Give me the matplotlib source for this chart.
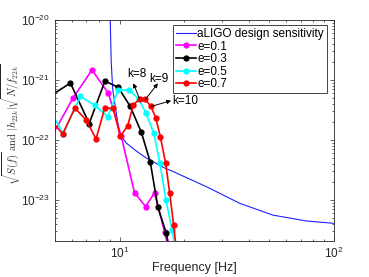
import numpy as np
import matplotlib
matplotlib.use("Agg")
import matplotlib.pyplot as plt

plt.rcParams['font.family'] = ['Liberation Sans', 'DejaVu Sans']

# ─── data ────────────────────────────────────────────────────────────────────

ligo_f = [8.95, 9.05, 9.15, 9.30, 10.0, 10.75, 11.97, 13.33, 16.23, 17.75,
          25.4, 36.4, 52.0, 74.6, 100.0]
ligo_h = [1e-18, 1e-20, 1.92e-21, 6.8e-22, 1.26e-22, 8.9e-23, 6.56e-23,
          5.0e-23, 3.42e-23, 2.99e-23, 1.67e-23, 8.8e-24, 5.6e-24,
          4.47e-24, 4.09e-24]

e01_f = [4.41, 6.05, 7.44, 8.88, 10.18, 11.75, 13.23, 14.57, 16.23, 17.88]
e01_h = [6.36e-23, 4.92e-22, 1.47e-21, 5.96e-22, 1.17e-22, 1.32e-23,
         7.8e-24, 1.32e-23, 2.93e-24, 6.8e-25]

e03_f = [4.50, 5.90, 7.22, 8.55, 9.86, 11.19, 12.63, 13.92, 15.10, 16.53, 18.07]
e03_h = [4.75e-22, 8.9e-22, 1.88e-22, 9.6e-22, 7.55e-22, 3.69e-22,
         1.36e-22, 4.25e-23, 7.55e-24, 2.79e-24, 5.6e-25]

e05_f = [4.56, 5.47, 6.57, 7.68, 8.82, 9.84, 11.07, 12.27, 13.30, 14.46,
         15.43, 16.46, 17.59, 18.66]
e05_h = [3.98e-22, 1.28e-22, 5.35e-22, 3.76e-22, 2.45e-22, 6.68e-22,
         6.89e-22, 4.82e-22, 2.79e-22, 1.29e-22, 4.09e-23, 1.0e-23,
         3.16e-24, 9.3e-25]

e07_f = [4.66, 5.43, 6.19, 6.99, 7.77, 8.53, 9.36, 10.08, 10.90, 11.60,
         12.40, 13.20, 14.01, 14.73, 15.50, 16.41, 17.13, 17.88, 18.66]
e07_h = [2.42e-22, 1.26e-22, 3.41e-22, 2.15e-22, 1.04e-22, 3.41e-22,
         3.35e-22, 1.15e-22, 1.71e-22, 3.83e-22, 4.82e-22, 4.73e-22,
         3.62e-22, 2.37e-22, 1.14e-22, 4.09e-23, 1.32e-23, 3.83e-24, 1.0e-24]

series = [("e=0.1", e01_f, e01_h, "#ff00ff"),
          ("e=0.3", e03_f, e03_h, "black"),
          ("e=0.5", e05_f, e05_h, "#00ffff"),
          ("e=0.7", e07_f, e07_h, "#ff0000")]

# k labels: (label, tail point on e=0.7 curve, arrow head, text position)
k_labels = [("k=8", (12.40, 4.82e-22), (11.6, 8.8e-22), (12.0, 1.24e-21)),
            ("k=9", (13.20, 4.73e-22), (15.1, 8.8e-22), (15.3, 1.04e-21)),
            ("k=10", (14.01, 3.62e-22), (17.4, 4.52e-22), (17.6, 4.55e-22))]

# ─── figure ──────────────────────────────────────────────────────────────────

fig = plt.figure(figsize=(3.69, 2.77), dpi=100)
ax = fig.add_axes([0.149, 0.131, 0.756, 0.797])

ax.plot(ligo_f, ligo_h, color="#2020ff", linewidth=0.8,
        label="aLIGO design sensitivity")
for name, f, h, c in series:
    ax.plot(f, h, color=c, linewidth=1.2, marker="o", markersize=3.6,
            markeredgewidth=0.9, label=name)

for txt, tail, head, pos in k_labels:
    ax.annotate("", xy=head, xytext=tail,
                arrowprops=dict(arrowstyle="-|>", color="black", lw=0.7,
                                mutation_scale=6, shrinkA=0, shrinkB=0))
    ha = "left" if txt == "k=10" else "center"
    ax.text(pos[0], pos[1], txt, fontsize=8.5, ha=ha, va="center")

ax.set_xscale("log")
ax.set_yscale("log")
ax.set_xlim(5, 100)
ax.set_ylim(2.1e-24, 1e-20)

ax.set_xlabel("Frequency [Hz]", fontsize=9, color="#262626", labelpad=1)
yl = ax.set_ylabel(r"$\sqrt{S(f)}\ \mathrm{and}\ |h_{22k}|\sqrt{N/f_{22k}}$",
                   fontsize=7.5, color="#262626")
yl.set_math_fontfamily("cm")
ax.yaxis.set_label_coords(-0.115, 0.53)

ax.tick_params(which="both", direction="in", top=True, right=True,
               colors="#262626", labelsize=8.5, width=0.5)
ax.tick_params(which="major", length=3)
ax.tick_params(which="minor", length=1.5)
for sp in ax.spines.values():
    sp.set_color("#262626")
    sp.set_linewidth(0.6)

leg = ax.legend(loc="upper right", bbox_to_anchor=(0.975, 0.977),
                fontsize=8.5, frameon=True, fancybox=False, framealpha=1,
                edgecolor="#262626", borderpad=0.25, labelspacing=0.05,
                handlelength=1.7, handletextpad=0.1, borderaxespad=0)
leg.get_frame().set_linewidth(0.6)

fig.savefig("out.png", dpi=100)
